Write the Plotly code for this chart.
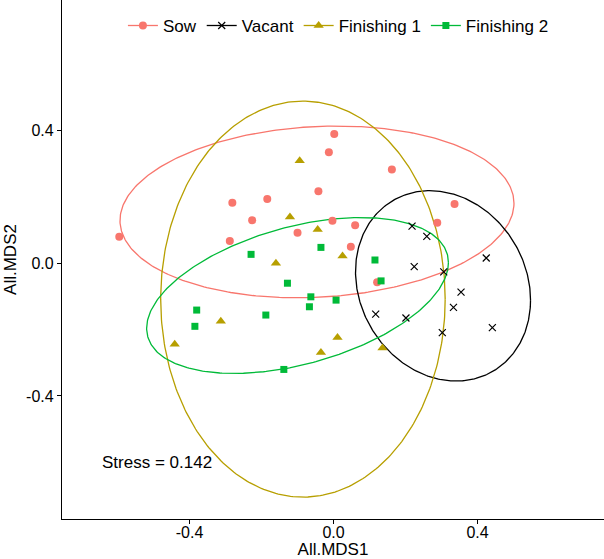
import numpy as np
import plotly.graph_objects as go

# ---- data ----
groups = ["Sow", "Vacant", "Finishing 1", "Finishing 2"]

sow_x = [-0.595, -0.281, -0.184, -0.226, -0.288, -0.100, 0.002, -0.013, 0.162, -0.042,
         0.336, -0.003, 0.060, 0.288, 0.048, 0.121]
sow_y = [0.080, 0.183, 0.194, 0.130, 0.067, 0.092, 0.390, 0.335, 0.283, 0.217,
         0.179, 0.128, 0.115, 0.122, 0.050, -0.057]

vac_x = [0.218, 0.259, 0.224, 0.306, 0.424, 0.354, 0.333, 0.117, 0.201, 0.302, 0.441]
vac_y = [0.112, 0.081, -0.010, -0.026, 0.016, -0.087, -0.133, -0.153, -0.165, -0.209, -0.194]

fin1_x = [-0.094, -0.121, -0.044, -0.160, 0.025, -0.313, -0.441, 0.011, -0.035, 0.136]
fin1_y = [0.309, 0.140, 0.102, 0.000, 0.022, -0.175, -0.244, -0.224, -0.269, -0.255]

fin2_x = [-0.229, -0.035, -0.128, -0.063, 0.007, -0.067, -0.188, -0.380, -0.385, -0.138, 0.115, 0.132]
fin2_y = [0.027, 0.048, -0.060, -0.101, -0.111, -0.131, -0.156, -0.141, -0.190, -0.320, 0.010, -0.053]

# ellipse parameters per group: centre, half-width, half-height, y-offset at x-extreme
ell_cx = [-0.046, 0.304, -0.085, -0.100]
ell_cy = [0.155, -0.068, -0.108, -0.097]
ell_rx = [0.547, 0.243, 0.395, 0.419]
ell_ry = [0.259, 0.287, 0.597, 0.235]
ell_dy = [0.026, -0.043, 0.000, 0.099]

stress_text = "Stress = 0.142"

# ---- styling ----
colors = ["#F8766D", "#000000", "#B79F00", "#00BA38"]
symbols = ["circle", "x-thin", "triangle-up", "square"]
sizes = [8, 7, 9, 7]
xs = [sow_x, vac_x, fin1_x, fin2_x]
ys = [sow_y, vac_y, fin1_y, fin2_y]

fig = go.Figure()
t = np.linspace(0, 2 * np.pi, 361)
for i, g in enumerate(groups):
    k = np.sqrt(ell_ry[i] ** 2 - ell_dy[i] ** 2)
    ex = ell_cx[i] + ell_rx[i] * np.cos(t)
    ey = ell_cy[i] + ell_dy[i] * np.cos(t) + k * np.sin(t)
    fig.add_trace(go.Scatter(x=ex, y=ey, mode="lines", line=dict(color=colors[i], width=1.3),
                             legendgroup=g, showlegend=False, hoverinfo="skip"))
for i, g in enumerate(groups):
    if symbols[i] == "x-thin":
        mk = dict(symbol="x-thin", size=sizes[i], color=colors[i],
                  line=dict(color=colors[i], width=1.2))
    else:
        mk = dict(symbol=symbols[i], size=sizes[i], color=colors[i], line=dict(width=0))
    fig.add_trace(go.Scatter(x=xs[i], y=ys[i], mode="markers", marker=mk,
                             legendgroup=g, showlegend=False, name=g))
    # legend entry (line + point glyph)
    fig.add_trace(go.Scatter(x=[None], y=[None], mode="lines+markers", marker=mk,
                             line=dict(color=colors[i], width=1.3),
                             legendgroup=g, showlegend=True, name=g))

fig.add_annotation(x=-0.490, y=-0.602, text=stress_text, showarrow=False,
                   font=dict(size=17, color="black"), xanchor="center", yanchor="middle")

axis_common = dict(showgrid=False, zeroline=False, showline=True, linecolor="black",
                   linewidth=1.2, ticks="outside", ticklen=4, tickcolor="black",
                   tickfont=dict(size=16, color="black"),
                   tickvals=[-0.4, 0.0, 0.4], ticktext=["-0.4", "0.0", "0.4"])

fig.update_layout(
    width=604, height=559,
    margin=dict(l=62, r=0, t=0, b=40),
    paper_bgcolor="white", plot_bgcolor="white",
    font=dict(family="Liberation Sans, Arial, sans-serif", size=16, color="black"),
    xaxis=dict(range=[-0.754, 0.751], title=dict(text="All.MDS1", font=dict(size=17), standoff=0),
               ticklabelstandoff=-5, **axis_common),
    yaxis=dict(range=[-0.771, 0.794], title=dict(text="All.MDS2", font=dict(size=17), standoff=5),
               **axis_common),
    legend=dict(orientation="h", x=0.51, xanchor="center", y=0.95, yanchor="middle",
                font=dict(size=17), bgcolor="rgba(0,0,0,0)", itemwidth=30,
                traceorder="normal"),
    showlegend=True,
)

fig.write_html("out.html")
